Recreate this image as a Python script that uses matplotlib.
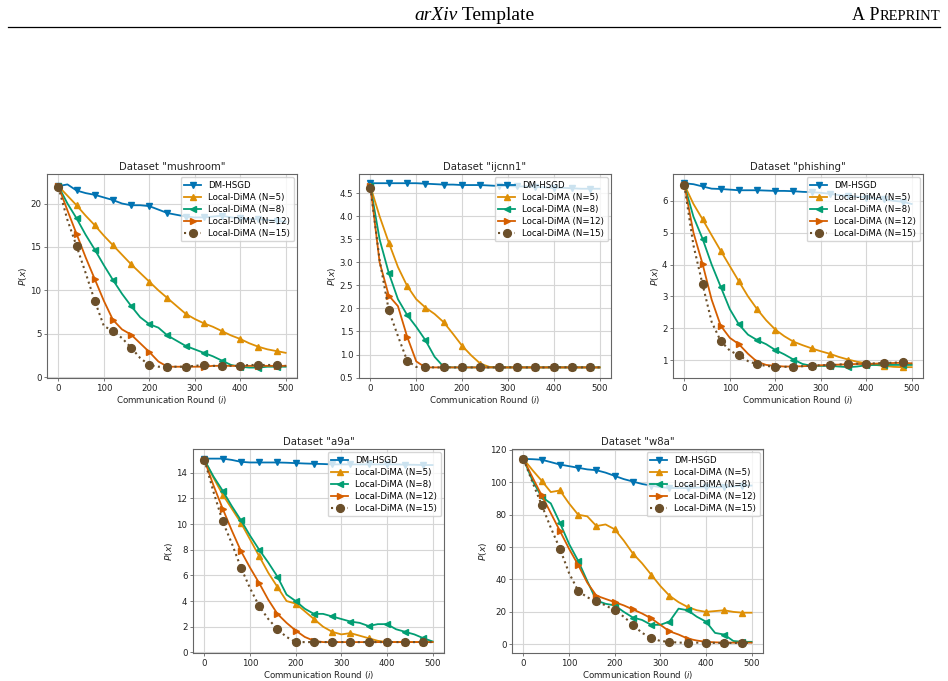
import matplotlib
matplotlib.use("Agg")
import matplotlib.pyplot as plt
from matplotlib.lines import Line2D

# communication rounds, one value every 20 rounds
rounds = list(range(0, 501, 20))

titles = ['Dataset "mushroom"', 'Dataset "ijcnn1"', 'Dataset "phishing"', 'Dataset "a9a"', 'Dataset "w8a"']
labels = ["DM-HSGD", "Local-DiMA (N=5)", "Local-DiMA (N=8)", "Local-DiMA (N=12)", "Local-DiMA (N=15)"]

# mushroom
mush_dm = [22.0, 22.2, 21.5, 21.2, 21.0, 20.7, 20.4, 20.0, 19.8, 19.8, 19.7, 19.3, 18.9, 18.7, 18.5, 18.4,
           18.4, 18.5, 18.6, 18.4, 18.3, 18.2, 18.2, 18.1, 18.0, 17.9]
mush_n5 = [22.0, 20.9, 19.8, 18.6, 17.5, 16.3, 15.2, 14.1, 13.0, 12.0, 11.0, 10.0, 9.1, 8.2, 7.3, 6.7,
           6.2, 5.8, 5.3, 4.8, 4.4, 3.9, 3.5, 3.2, 3.0, 2.8]
mush_n8 = [22.0, 20.0, 18.3, 16.4, 14.7, 12.9, 11.2, 9.6, 8.2, 6.9, 6.1, 5.7, 4.8, 4.2, 3.6, 3.2,
           2.8, 2.4, 1.9, 1.4, 1.2, 1.1, 1.1, 1.2, 1.2, 1.2]
mush_n12 = [22.0, 19.2, 16.5, 13.8, 11.3, 8.8, 6.6, 5.5, 4.9, 3.9, 2.9, 1.8, 1.2, 1.2, 1.2, 1.2,
            1.2, 1.3, 1.3, 1.3, 1.3, 1.3, 1.3, 1.3, 1.3, 1.3]
mush_n15 = [21.9, 18.1, 15.1, 12.0, 8.8, 5.9, 5.3, 4.5, 3.4, 2.2, 1.4, 1.2, 1.2, 1.2, 1.2, 1.3,
            1.4, 1.3, 1.3, 1.3, 1.3, 1.4, 1.4, 1.4, 1.4, 1.3]

# ijcnn1
ijc_dm = [4.72, 4.72, 4.72, 4.72, 4.72, 4.72, 4.71, 4.70, 4.69, 4.69, 4.68, 4.68, 4.68, 4.67, 4.66, 4.66,
          4.65, 4.65, 4.64, 4.63, 4.62, 4.62, 4.61, 4.60, 4.60, 4.60]
ijc_n5 = [4.65, 4.00, 3.43, 2.90, 2.49, 2.20, 2.02, 1.88, 1.70, 1.45, 1.19, 0.98, 0.80, 0.73, 0.72, 0.72,
          0.72, 0.72, 0.72, 0.72, 0.72, 0.72, 0.72, 0.72, 0.72, 0.72]
ijc_n8 = [4.65, 3.50, 2.77, 2.20, 1.86, 1.60, 1.31, 0.95, 0.73, 0.72, 0.72, 0.72, 0.72, 0.72, 0.72, 0.72,
          0.72, 0.72, 0.72, 0.72, 0.72, 0.72, 0.72, 0.72, 0.72, 0.72]
ijc_n12 = [4.65, 3.00, 2.28, 2.05, 1.39, 0.85, 0.72, 0.72, 0.72, 0.72, 0.72, 0.72, 0.72, 0.72, 0.72, 0.72,
           0.72, 0.72, 0.72, 0.72, 0.72, 0.72, 0.72, 0.72, 0.72, 0.72]
ijc_n15 = [4.62, 3.05, 1.96, 1.40, 0.87, 0.73, 0.73, 0.72, 0.72, 0.72, 0.72, 0.72, 0.72, 0.72, 0.72, 0.72,
           0.73, 0.72, 0.72, 0.72, 0.73, 0.72, 0.73, 0.72, 0.73, 0.72]

# phishing
phi_dm = [6.55, 6.52, 6.45, 6.38, 6.37, 6.35, 6.33, 6.33, 6.33, 6.32, 6.31, 6.31, 6.30, 6.28, 6.27, 6.25,
          6.22, 6.18, 6.15, 6.13, 6.10, 6.07, 6.05, 6.00, 5.97, 5.90]
phi_n5 = [6.50, 5.90, 5.42, 4.92, 4.43, 3.95, 3.47, 3.00, 2.60, 2.25, 1.96, 1.75, 1.58, 1.47, 1.37, 1.28,
          1.20, 1.10, 1.02, 0.95, 0.90, 0.85, 0.82, 0.79, 0.78, 0.78]
phi_n8 = [6.50, 5.50, 4.81, 4.00, 3.30, 2.60, 2.12, 1.80, 1.63, 1.50, 1.32, 1.18, 1.02, 0.88, 0.82, 0.82,
          0.82, 0.80, 0.78, 0.80, 0.84, 0.85, 0.85, 0.85, 0.85, 0.85]
phi_n12 = [6.50, 5.00, 4.02, 2.90, 2.08, 1.70, 1.50, 1.20, 0.95, 0.85, 0.82, 0.80, 0.80, 0.81, 0.82, 0.84,
           0.85, 0.86, 0.87, 0.88, 0.88, 0.89, 0.90, 0.91, 0.92, 0.90]
phi_n15 = [6.48, 4.60, 3.38, 2.20, 1.60, 1.30, 1.15, 0.97, 0.87, 0.82, 0.79, 0.79, 0.80, 0.81, 0.83, 0.84,
           0.84, 0.86, 0.89, 0.89, 0.89, 0.90, 0.91, 0.92, 0.93, 0.92]

# a9a
a9a_dm = [15.1, 15.1, 15.1, 15.0, 14.85, 14.8, 14.8, 14.8, 14.8, 14.78, 14.75, 14.72, 14.7, 14.68, 14.65, 14.65,
          14.65, 14.65, 14.65, 14.65, 14.65, 14.65, 14.63, 14.62, 14.6, 14.6]
a9a_n5 = [15.0, 13.6, 12.3, 11.2, 10.1, 8.8, 7.5, 6.2, 5.1, 4.0, 3.8, 3.2, 2.6, 2.0, 1.6, 1.4,
          1.5, 1.3, 1.1, 0.9, 0.8, 0.8, 0.8, 0.8, 0.8, 0.8]
a9a_n8 = [15.0, 13.7, 12.6, 11.4, 10.3, 9.1, 8.0, 7.0, 5.9, 4.5, 4.0, 3.4, 3.0, 3.0, 2.8, 2.6,
          2.4, 2.3, 2.05, 2.2, 2.2, 1.8, 1.6, 1.4, 1.1, 0.85]
a9a_n12 = [15.0, 13.0, 11.2, 9.5, 7.9, 6.6, 5.4, 4.1, 3.0, 2.3, 1.7, 1.2, 0.9, 0.8, 0.8, 0.8,
           0.8, 0.8, 0.8, 0.8, 0.8, 0.8, 0.8, 0.8, 0.8, 0.8]
a9a_n15 = [15.0, 12.5, 10.2, 8.5, 6.6, 5.0, 3.6, 2.6, 1.8, 1.2, 0.8, 0.8, 0.8, 0.8, 0.8, 0.8,
           0.8, 0.8, 0.8, 0.8, 0.8, 0.8, 0.8, 0.8, 0.8, 0.8]

# w8a
w8a_dm = [114.5, 114.3, 114.0, 112.5, 111.0, 110.0, 109.0, 108.0, 107.5, 106.0, 104.0, 102.0, 100.5, 99.0, 98.0, 97.0,
          96.5, 96.5, 96.5, 96.8, 97.0, 97.0, 97.0, 97.5, 98.0, 98.0]
w8a_n5 = [114.5, 107.5, 101.0, 94.0, 95.0, 87.0, 80.0, 79.0, 73.0, 74.0, 71.0, 64.0, 56.0, 50.0, 43.0, 36.0,
          30.0, 26.0, 23.0, 21.0, 20.0, 20.5, 21.0, 20.0, 19.5, 19.5]
w8a_n8 = [114.5, 101.0, 91.0, 87.0, 75.0, 62.0, 51.5, 39.0, 27.0, 25.0, 24.0, 20.0, 16.5, 15.0, 12.0, 12.0,
          14.0, 22.0, 21.0, 17.0, 14.0, 7.0, 6.0, 2.0, 1.5, 1.5]
w8a_n12 = [114.5, 103.0, 92.0, 81.0, 70.0, 59.0, 49.0, 38.0, 30.0, 28.0, 26.0, 24.0, 21.5, 19.0, 16.0, 12.0,
           8.0, 6.0, 3.5, 2.3, 1.5, 1.2, 1.0, 1.0, 1.0, 1.0]
w8a_n15 = [114.5, 100.0, 86.0, 72.0, 59.0, 44.0, 33.0, 29.0, 26.5, 24.0, 21.0, 17.0, 12.0, 7.0, 4.0, 2.0,
           1.5, 1.0, 1.0, 1.0, 1.0, 0.8, 0.8, 0.8, 0.8, 0.8]

datasets = [
    [mush_dm, mush_n5, mush_n8, mush_n12, mush_n15],
    [ijc_dm, ijc_n5, ijc_n8, ijc_n12, ijc_n15],
    [phi_dm, phi_n5, phi_n8, phi_n12, phi_n15],
    [a9a_dm, a9a_n5, a9a_n8, a9a_n12, a9a_n15],
    [w8a_dm, w8a_n5, w8a_n8, w8a_n12, w8a_n15],
]
ylims = [(-0.1, 23.4), (0.49, 4.92), (0.44, 6.84), (-0.05, 15.85), (-5.4, 120.6)]

colors = ["#0173b2", "#de8f05", "#029e73", "#d55e00", "#6b4f2a"]
markers = ["v", "^", "<", ">", "o"]
styles = ["-", "-", "-", "-", ":"]

W, H = 948, 681
# axes boxes in pixels: left, top, right, bottom
boxes = [(47, 174, 297, 378), (359, 174, 611, 378), (673, 174, 923, 378),
         (193, 449, 444, 653), (512, 449, 763, 653)]

fig = plt.figure(figsize=(W / 100, H / 100), dpi=100)
fs = 6.2

for k, (l, t, r, b) in enumerate(boxes):
    ax = fig.add_axes([l / W, 1 - b / H, (r - l) / W, (b - t) / H])
    for series, c, m, ls, lab in zip(datasets[k], colors, markers, styles, labels):
        ms = 5.6 if m == "o" else 4.8
        lw = 1.5 if ls == ":" else 1.3
        ax.plot(rounds, series, ls, color=c, marker=m, markersize=ms, markevery=2,
                linewidth=lw, label=lab)
    ax.set_xlim(-25, 525)
    ax.set_ylim(*ylims[k])
    ax.set_xticks([0, 100, 200, 300, 400, 500])
    ax.grid(True, color="#d6d6d6", linewidth=0.8)
    ax.set_axisbelow(True)
    for s in ax.spines.values():
        s.set_color("#666666")
        s.set_linewidth(0.8)
    ax.tick_params(labelsize=fs, colors="#666666", labelcolor="#222222", width=0.6, length=2.5, pad=1.5)
    ax.set_title(titles[k], fontsize=7.3, pad=3, color="#222222")
    ax.set_xlabel(r"Communication Round ($i$)", fontsize=fs, labelpad=1, color="#222222")
    ax.set_ylabel(r"$P(x)$", fontsize=6.6, labelpad=1, color="#222222")
    ax.legend(loc="upper right", fontsize=fs, framealpha=0.8, borderaxespad=0.4,
              handletextpad=0.8, labelspacing=0.35, borderpad=0.4)


def text_run(x_px, y_px, pieces):
    # place text pieces one after another on a common baseline
    renderer = fig.canvas.get_renderer()
    x = x_px
    for s, size, style in pieces:
        t = fig.text(x / W, 1 - y_px / H, s, fontsize=size, family="Liberation Serif",
                     style=style, va="baseline")
        x = t.get_window_extent(renderer).x1


# page header
text_run(414, 20, [("arXiv", 14, "italic"), ("\u00a0Template", 14, "normal")])
text_run(852, 20, [("A\u00a0P", 13, "normal"), ("REPRINT", 10.5, "normal")])
fig.add_artist(Line2D([8 / W, 940 / W], [1 - 27 / H, 1 - 27 / H], color="black", linewidth=0.9,
                      transform=fig.transFigure))

fig.savefig("out.png", dpi=100)
